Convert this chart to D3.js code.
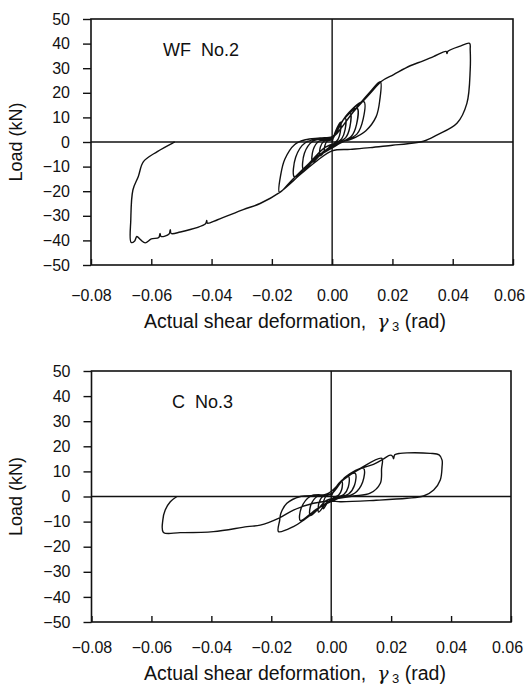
<!DOCTYPE html>
<html>
<head>
<meta charset="utf-8">
<script src="https://cdn.jsdelivr.net/npm/d3@7"></script>
<style>
  body { margin: 0; background: #fff; }
  text { font-family: "Liberation Sans", Arial, sans-serif; fill: #111; }
</style>
</head>
<body>
<div id="chart"></div>
<script>
// tick values shared by both panels
const xTicks = [-0.08, -0.06, -0.04, -0.02, 0, 0.02, 0.04, 0.06];
const yTicks = [-50, -40, -30, -20, -10, 0, 10, 20, 30, 40, 50];

// WF No.2 : [shear deformation (rad), load (kN)] read along the loading history
const wfNo2 = [
  [0, 0], [0.0012, 4.6], [0.0028, 8.1], [0.0027, 4.0], [0.0020, 1.2], [0.0006, -0.6], [-0.0012, -2.4], [-0.0025, -4.2], [-0.0024, -1.4], [-0.0016, 0.4], [0, 1.0],
  [0.0020, 5.8], [0.0044, 9.6], [0.0043, 5.0], [0.0032, 1.4], [0.0010, -0.6], [-0.0018, -3.0], [-0.0040, -5.6], [-0.0039, -2.0], [-0.0026, 0.4], [0, 1.2],
  [0.0027, 7.4], [0.0060, 11.6], [0.0059, 6.2], [0.0045, 1.8], [0.0014, -0.6], [-0.0030, -4.0], [-0.0065, -8.2], [-0.0063, -3.2], [-0.0043, 0.4], [0, 1.4],
  [0.0037, 9.0], [0.0083, 13.7], [0.0081, 7.2], [0.0063, 2.2], [0.0020, -0.6], [-0.0043, -5.2], [-0.0095, -11.2], [-0.0092, -4.6], [-0.0064, 0.3], [-0.0020, 1.3], [0, 1.6],
  [0.0047, 10.8], [0.0105, 16.4], [0.0103, 9.4], [0.0082, 3.2], [0.0030, -0.3], [-0.0056, -6.6], [-0.0125, -14.2], [-0.0121, -6.2], [-0.0088, -0.2], [-0.0030, 1.4], [0, 1.9],
  [0.0016, 3.5], [0.0066, 11.6], [0.0122, 19.8], [0.0160, 24.5], [0.0158, 17.0], [0.0146, 10.3], [0.0112, 4.6], [0.0066, 1.3], [0.0022, -0.2], [-0.0022, -2.1], [-0.0077, -8.7], [-0.0133, -15.4], [-0.0175, -20.5],
  [-0.0170, -13.0], [-0.0157, -7.0], [-0.0124, -1.0], [-0.0089, 0.9], [-0.0040, 1.6], [0, 2.2],
  [0.0020, 4.2], [0.0070, 12.2], [0.0125, 19.6], [0.0165, 24.8], [0.0204, 27.4], [0.0259, 31.0], [0.0300, 32.9], [0.0336, 34.7], [0.0378, 36.8], [0.0381, 36.0], [0.0384, 36.9], [0.0425, 39.0], [0.0456, 40.1],
  [0.0458, 37.5], [0.0458, 29.3], [0.0447, 15.7], [0.0414, 7.6], [0.0347, 2.8], [0.0303, 0.3], [0.0250, -0.7], [0.0200, -1.3], [0.0126, -2.3], [0.0060, -3.0], [0, -3.6],
  [-0.0050, -7.6], [-0.0100, -12.6], [-0.0175, -20.6], [-0.0239, -25.0], [-0.0295, -27.5], [-0.0380, -31.6], [-0.0414, -33.0], [-0.0416, -31.9], [-0.0420, -33.2], [-0.0504, -36.6],
  [-0.0534, -37.2], [-0.0537, -35.6], [-0.0541, -37.4], [-0.0568, -38.4], [-0.0571, -37.2], [-0.0575, -38.8], [-0.0600, -39.4], [-0.0620, -41.0], [-0.0635, -39.8], [-0.0648, -38.4], [-0.0655, -40.2], [-0.0667, -40.8],
  [-0.0668, -31.7], [-0.0661, -19.5], [-0.0643, -14.0], [-0.0626, -8.0], [-0.0580, -3.9], [-0.0527, -0.3], [-0.0522, 0]
];

// C No.3
const cNo3 = [
  [0, 0], [0.0015, 3.6], [0.0036, 5.9], [0.0035, 2.8], [0.0025, 0.6], [0.0006, -0.6], [-0.0012, -2.4], [-0.0026, -4.9], [-0.0025, -1.8], [-0.0016, 0.3], [0, 0.8],
  [0.0025, 5.2], [0.0058, 7.9], [0.0057, 3.8], [0.0042, 0.8], [0.0010, -0.7], [-0.0019, -3.0], [-0.0042, -6.2], [-0.0041, -2.6], [-0.0027, 0.2], [0, 0.9],
  [0.0035, 6.4], [0.0080, 9.2], [0.0078, 4.6], [0.0058, 1.0], [0.0014, -0.8], [-0.0032, -3.8], [-0.0070, -7.6], [-0.0068, -3.4], [-0.0045, 0.2], [0, 1.0],
  [0.0048, 7.8], [0.0108, 11.2], [0.0105, 5.8], [0.0078, 1.3], [0.0020, -0.9], [-0.0046, -4.8], [-0.0103, -9.6], [-0.0100, -4.6], [-0.0068, 0.2], [0, 1.1],
  [0.0036, 6.2], [0.0100, 11.4], [0.0169, 15.2], [0.0168, 11.0], [0.0164, 5.3], [0.0130, 1.3], [0.0074, 0.2], [0.0020, -0.8], [-0.0014, -1.4], [-0.0048, -5.4], [-0.0092, -9.4], [-0.0126, -12.0], [-0.0176, -14.0],
  [-0.0172, -9.5], [-0.0168, -6.7], [-0.0148, -2.7], [-0.0103, 0], [-0.0014, 1.0],
  [0.0040, 6.6], [0.0100, 11.2], [0.0141, 12.8], [0.0175, 15.0], [0.0197, 16.5], [0.0205, 16.0], [0.0208, 15.0], [0.0212, 16.6], [0.0230, 17.2], [0.0253, 17.4], [0.0330, 17.2], [0.0360, 16.6],
  [0.0370, 14.5], [0.0370, 11.9], [0.0364, 6.6], [0.0342, 2.6], [0.0308, 0.2], [0.0253, -0.7], [0.0150, -1.5], [0.0030, -2.1], [0, -1.8],
  [-0.0059, -2.7], [-0.0126, -5.4], [-0.0176, -8.7], [-0.0237, -11.4], [-0.0281, -12.0], [-0.0393, -14.0], [-0.0504, -14.4], [-0.0560, -14.3],
  [-0.0562, -9.4], [-0.0554, -5.4], [-0.0537, -2.1], [-0.0515, 0]
];

const svg = d3.select("#chart")
  .append("svg")
  .attr("width", 527)
  .attr("height", 685);

const panels = [
  { label: "WF  No.2", data: wfNo2, left: 91, top: 19, right: 513, bottom: 265, labelX: 163, labelY: 56, titleY: 328, pad: 25 },
  { label: "C  No.3", data: cNo3, left: 91.5, top: 371, right: 511, bottom: 622, labelX: 172, labelY: 408, titleY: 680, pad: 20 }
];

panels.forEach(p => {
  const x = d3.scaleLinear().domain([-0.08, 0.06]).range([p.left, p.right]);
  const y = d3.scaleLinear().domain([-50, 50]).range([p.bottom, p.top]);
  const g = svg.append("g");

  // y axis, ticks outside
  const ya = g.append("g")
    .attr("transform", `translate(${p.left},0)`)
    .call(d3.axisLeft(y).tickValues(yTicks).tickSize(8).tickPadding(13).tickFormat(d3.format("d")));
  ya.select(".domain").remove();

  // x axis, ticks inside
  const xa = g.append("g")
    .attr("transform", `translate(0,${p.bottom})`)
    .call(d3.axisBottom(x).tickValues(xTicks).tickSizeInner(-6).tickSizeOuter(0).tickPadding(p.pad).tickFormat(d3.format(".2f")));
  xa.select(".domain").remove();
  xa.selectAll(".tick text").filter(d => d === 0.06).attr("dx", -4);

  g.selectAll(".tick line").attr("stroke", "#111").attr("stroke-width", 1.4);
  g.selectAll(".tick text").attr("font-size", 16).attr("font-family", "Liberation Sans, Arial, sans-serif").attr("fill", "#111");

  // zero lines
  g.append("line")
    .attr("x1", x(0)).attr("x2", x(0))
    .attr("y1", p.top).attr("y2", p.bottom)
    .attr("stroke", "#111").attr("stroke-width", 1.4);
  g.append("line")
    .attr("x1", p.left).attr("x2", p.right)
    .attr("y1", y(0)).attr("y2", y(0))
    .attr("stroke", "#111").attr("stroke-width", 1.4);

  // frame
  g.append("rect")
    .attr("x", p.left).attr("y", p.top)
    .attr("width", p.right - p.left).attr("height", p.bottom - p.top)
    .attr("fill", "none").attr("stroke", "#111").attr("stroke-width", 1.6);

  // hysteresis curve
  const line = d3.line()
    .x(d => x(d[0]))
    .y(d => y(d[1]))
    .curve(d3.curveCatmullRom.alpha(0.5));
  g.append("path")
    .datum(p.data)
    .attr("d", line)
    .attr("fill", "none")
    .attr("stroke", "#111")
    .attr("stroke-width", 1.4)
    .attr("stroke-linejoin", "round");

  // specimen label
  g.append("text")
    .attr("x", p.labelX).attr("y", p.labelY)
    .attr("font-size", 18)
    .style("white-space", "pre")
    .text(p.label);

  // y title
  g.append("text")
    .attr("transform", `translate(22,${(p.top + p.bottom) / 2}) rotate(-90)`)
    .attr("text-anchor", "middle")
    .attr("font-size", 18)
    .text("Load (kN)");

  // x title
  const t = g.append("text")
    .attr("x", 295).attr("y", p.titleY)
    .attr("text-anchor", "middle")
    .attr("font-size", 19.5)
    .style("white-space", "pre");
  t.append("tspan").text("Actual shear deformation,  ");
  t.append("tspan").attr("font-family", "DejaVu Serif").attr("font-style", "italic").attr("font-size", 19).text("γ");
  t.append("tspan").attr("font-size", 13).attr("dy", 3).text(" 3");
  t.append("tspan").attr("dy", -3).text(" (rad)");
});
</script>
</body>
</html>
